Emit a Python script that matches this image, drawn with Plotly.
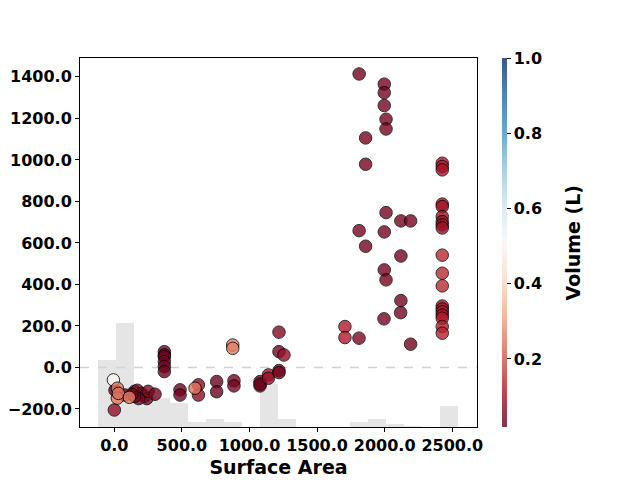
import plotly.graph_objects as go

# ---------------- data ----------------
surface_area = [
    1811, 1997, 1997, 1997, 2010, 2010, 1859, 1859,
    2426, 2426, 2426,
    2010, 2120, 2192, 1811, 1997, 1859, 2120, 1997, 2010, 2120, 2118, 2192, 1995,
    1706, 1706, 1810,
    2426, 2426, 2426, 2426, 2426, 2426, 2426, 2426, 2426,
    2426, 2426, 2426, 2426, 2426, 2426, 2426,
    0, 79, 5, 150, 170, 200, 220, 240, 180, 150, 130, 250, 301,
    370, 370, 370, 370, 370, 370,
    486, 486, 622, 622, 757, 757, 885, 885,
    1078, 1078, 1078, 1140, 1140, 1218, 1218, 1218, 1255, 1218,
    -7, 22, 22, 30, 111, 597, 876, 876,
]
delta = [
    1414, 1365, 1324, 1262, 1196, 1149, 1106, 979,
    984, 968, 952,
    746, 706, 706, 659, 653, 584, 537, 470, 422, 322, 264, 112, 234,
    197, 144, 141,
    787, 775, 727, 703, 687, 672, 541, 454, 393,
    296, 282, 268, 252, 237, 197, 165,
    -205, -133, -110, -115, -110, -125, -140, -150, -150, -140, -130, -115, -129,
    76, 60, 52, 28, 4, -20,
    -108, -133, -84, -133, -68, -117, -64, -89,
    -68, -89, -80, -36, -52, -15, -25, 76, 60, 170,
    -60, -100, -148, -125, -144, -100, 108, 92,
]
volume = [
    0.04, 0.04, 0.04, 0.04, 0.04, 0.04, 0.04, 0.04,
    0.10, 0.12, 0.10,
    0.04, 0.04, 0.04, 0.04, 0.04, 0.04, 0.04, 0.04, 0.04, 0.04, 0.04, 0.04, 0.04,
    0.12, 0.12, 0.05,
    0.09, 0.10, 0.09, 0.08, 0.09, 0.09, 0.14, 0.14, 0.14,
    0.09, 0.10, 0.11, 0.10, 0.12, 0.12, 0.13,
    0.08, 0.05, 0.03, 0.04, 0.05, 0.04, 0.05, 0.04, 0.05, 0.04, 0.03, 0.05, 0.04,
    0.03, 0.03, 0.03, 0.03, 0.03, 0.03,
    0.03, 0.03, 0.07, 0.07, 0.03, 0.03, 0.04, 0.04,
    0.03, 0.03, 0.03, 0.10, 0.08, 0.04, 0.04, 0.04, 0.08, 0.06,
    0.50, 0.25, 0.25, 0.24, 0.26, 0.25, 0.26, 0.26,
]

hist_bin_start = -123
hist_bin_width = 133.1
hist_counts = [25, 39, 12, 11, 9, 2, 3, 2, 0, 16, 3, 0, 0, 0, 2, 3, 1, 0.2, 0, 8]

x_ticks = [0, 500, 1000, 1500, 2000, 2500]
y_ticks = [-200, 0, 200, 400, 600, 800, 1000, 1200, 1400]
cbar_ticks = [0.2, 0.4, 0.6, 0.8, 1.0]

# ---------------- styling ----------------
rdbu = ['#67001f', '#b2182b', '#d6604d', '#f4a582', '#fddbc7', '#f7f7f7',
        '#d1e5f0', '#92c5de', '#4393c3', '#2166ac', '#053061']
alpha = 0.8


def blend(h, a):
    r, g, b = int(h[1:3], 16), int(h[3:5], 16), int(h[5:7], 16)
    return 'rgb(%d,%d,%d)' % (round(a * r + (1 - a) * 255), round(a * g + (1 - a) * 255), round(a * b + (1 - a) * 255))


cs = [[i / 10, c] for i, c in enumerate(rdbu)]
cs_bar = [[i / 10, blend(c, alpha)] for i, c in enumerate(rdbu)]
cmin, cmax = 0.019, 1.0

FONT = "DejaVu Sans"

fig = go.Figure()

centers = [hist_bin_start + hist_bin_width * (i + 0.5) for i in range(len(hist_counts))]
fig.add_trace(go.Bar(
    x=centers, y=hist_counts, width=hist_bin_width,
    marker=dict(color='rgba(211,211,211,0.6)', line=dict(width=0)),
    xaxis='x', yaxis='y', showlegend=False, hoverinfo='skip'))

fig.add_trace(go.Scatter(
    x=surface_area, y=delta, mode='markers', xaxis='x', yaxis='y2',
    marker=dict(size=12.5, color=volume, colorscale=cs, cmin=cmin, cmax=cmax,
                opacity=alpha, line=dict(color='black', width=1), showscale=False),
    showlegend=False))

# colorbar (with alpha baked in, like matplotlib's)
fig.add_trace(go.Scatter(
    x=[None], y=[None], mode='markers', xaxis='x', yaxis='y2', showlegend=False,
    marker=dict(color=[cmin, cmax], colorscale=cs_bar, cmin=cmin, cmax=cmax, showscale=True,
                colorbar=dict(
                    thickness=5, len=1, lenmode='fraction', y=0.5, yanchor='middle',
                    x=1.063, xanchor='left', xpad=0, ypad=0, outlinewidth=0,
                    tickvals=cbar_ticks, tickformat='.1f', ticks='outside', ticklen=4,
                    tickwidth=1, tickcolor='black',
                    tickfont=dict(family=FONT, size=16, color='black', weight='bold'),
                ))))

fig.add_annotation(text='Volume (L)', xref='paper', yref='paper', x=1.2418, y=0.5,
                   textangle=-90, showarrow=False, xanchor='center', yanchor='middle',
                   font=dict(family=FONT, size=19, color='black', weight='bold'))

fig.add_shape(type='line', xref='paper', x0=0, x1=1, yref='y2', y0=0, y1=0,
              line=dict(color='rgba(190,190,190,0.7)', width=1.5, dash='dash'), layer='below')

axis_common = dict(showgrid=False, zeroline=False, showline=True, linecolor='black', linewidth=1,
                   mirror=True, ticks='outside', ticklen=4, tickwidth=1, tickcolor='black',
                   automargin=False,
                   tickfont=dict(family=FONT, size=16, color='black', weight='bold'))

fig.update_layout(
    width=640, height=480, margin=dict(l=80, r=163, t=58, b=53, autoexpand=False),
    paper_bgcolor='white', plot_bgcolor='white', bargap=0,
    xaxis=dict(range=[-254, 2683], tickvals=x_ticks, tickformat='.1f',
               title=dict(text='Surface Area', font=dict(family=FONT, size=19, color='black', weight='bold'),
                          standoff=6),
               **axis_common),
    yaxis=dict(range=[0, 138], visible=False, fixedrange=True),
    yaxis2=dict(range=[-287, 1491], overlaying='y', side='left', tickvals=y_ticks, tickformat='.1f',
                **axis_common),
)

fig.write_html("out.html")
